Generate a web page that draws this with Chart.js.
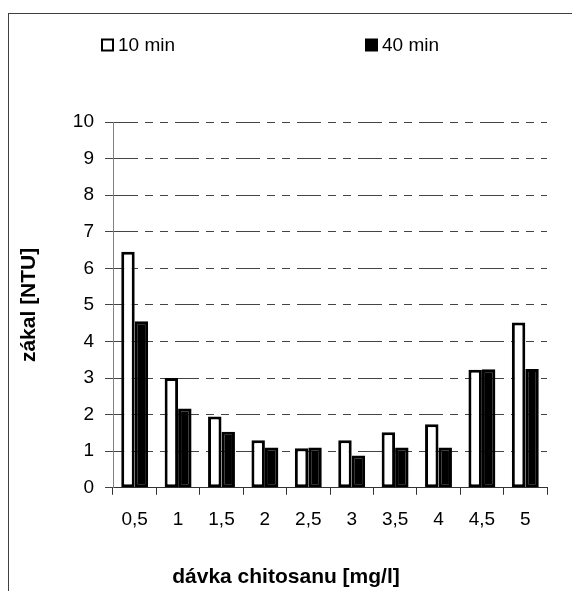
<!DOCTYPE html>
<html>
<head>
<meta charset="utf-8">
<script src="https://cdn.jsdelivr.net/npm/chart.js@4/dist/chart.umd.min.js"></script>
<style>
  html, body { margin: 0; padding: 0; background: #fff; overflow: hidden; }
  #frame { position: absolute; left: 8px; top: 13px; width: 700px; height: 700px; border: 1px solid #404040; box-sizing: border-box; }
  #wrap { position: absolute; left: 0; top: 0; width: 572px; height: 591px; }
</style>
</head>
<body>
<div id="frame"></div>
<div id="wrap"><canvas id="c" width="572" height="591"></canvas></div>
<script>
const categories = ['0,5', '1', '1,5', '2', '2,5', '3', '3,5', '4', '4,5', '5'];
const series10min = [6.45, 3.0, 1.95, 1.3, 1.08, 1.3, 1.52, 1.74, 3.23, 4.52];
const series40min = [4.55, 2.17, 1.53, 1.1, 1.1, 0.88, 1.1, 1.1, 3.24, 3.25];
const seriesLabels = ['10 min', '40 min'];
const yMin = 0, yMax = 10, yStep = 1;
const yTitle = 'zákal [NTU]';
const xTitle = 'dávka chitosanu [mg/l]';

const FONT = "'Liberation Sans', Arial, sans-serif";

const manualLegend = {
  id: 'manualLegend',
  afterDraw(chart) {
    const ctx = chart.ctx;
    const xs = [102, 366];
    const cy = 45;
    const size = 11;
    ctx.save();
    ctx.font = '19px ' + FONT;
    ctx.textBaseline = 'middle';
    ctx.textAlign = 'left';
    chart.data.datasets.forEach((ds, i) => {
      const x = xs[i];
      ctx.fillStyle = ds.backgroundColor;
      ctx.fillRect(x, cy - size / 2, size, size);
      ctx.lineWidth = 2;
      ctx.strokeStyle = ds.borderColor;
      ctx.strokeRect(x, cy - size / 2, size, size);
      ctx.fillStyle = '#000';
      ctx.fillText(ds.label, x + size + 5, cy + 1);
    });
    ctx.restore();
  }
};

new Chart(document.getElementById('c'), {
  type: 'bar',
  data: {
    labels: categories,
    datasets: [
      { label: seriesLabels[0], data: series10min, backgroundColor: '#ffffff', borderColor: '#000000', borderWidth: 3, borderSkipped: false, categoryPercentage: 0.62, barPercentage: 1.0 },
      { label: seriesLabels[1], data: series40min, backgroundColor: '#000000', borderColor: '#000000', borderWidth: 3, borderSkipped: false, categoryPercentage: 0.62, barPercentage: 1.0 }
    ]
  },
  options: {
    responsive: false,
    animation: false,
    devicePixelRatio: 1,
    layout: { padding: { top: 122, left: 0, right: 0, bottom: 0 } },
    plugins: {
      legend: { display: false },
      tooltip: { enabled: false },
      title: {
        display: true,
        text: xTitle,
        position: 'bottom',
        color: '#000',
        font: { family: FONT, size: 21, weight: 'bold' },
        padding: { top: 0, bottom: 1 }
      }
    },
    scales: {
      x: {
        type: 'category',
        grid: { display: true, offset: true, drawOnChartArea: false, drawTicks: true, tickLength: 7, color: '#333', tickColor: '#333', lineWidth: 1 },
        border: { display: true, color: '#333', width: 1 },
        ticks: { color: '#000', font: { family: FONT, size: 19 }, padding: 14, maxRotation: 0, autoSkip: false },
        afterFit(scale) { scale.height = 77; }
      },
      y: {
        min: yMin, max: yMax,
        grid: { color: '#444', tickColor: '#444', drawTicks: true, tickLength: 8, lineWidth: 1, tickBorderDash: [] },
        border: { display: true, color: '#808080', width: 1, dash: [24, 7, 8, 7, 8, 7] },
        ticks: { stepSize: yStep, color: '#000', font: { family: FONT, size: 19 }, padding: 11 },
        title: { display: true, text: yTitle, color: '#000', font: { family: FONT, size: 21, weight: 'bold' }, padding: { top: 17, bottom: 0 } },
        afterFit(scale) { scale.width = 113; }
      },
      y2: {
        position: 'right',
        display: true,
        min: yMin, max: yMax,
        grid: { display: false, drawOnChartArea: false },
        border: { display: false },
        ticks: { display: false },
        afterFit(scale) { scale.width = 25; }
      }
    }
  },
  plugins: [manualLegend]
});
</script>
</body>
</html>
